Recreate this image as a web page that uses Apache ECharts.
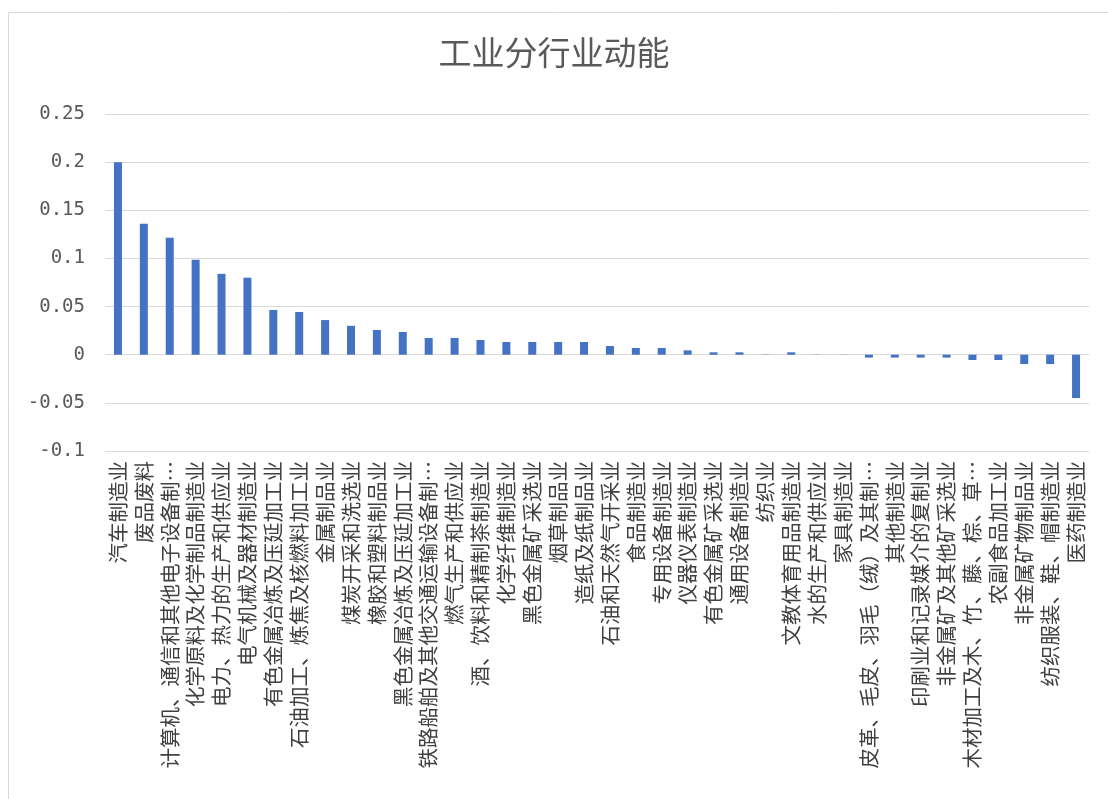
<!DOCTYPE html>
<html>
<head>
<meta charset="utf-8">
<title>工业分行业动能</title>
<script src="https://cdn.jsdelivr.net/npm/echarts@6/dist/echarts.min.js"></script>
<style>
  html, body { margin: 0; padding: 0; background: #fff; }
  #chart { width: 1108px; height: 799px; }
</style>
</head>
<body>
<div id="chart"></div>
<script>
const titleText = '工业分行业动能';

const industries = [
  '汽车制造业',
  '废品废料',
  '计算机、通信和其他电子设备制…',
  '化学原料及化学制品制造业',
  '电力、热力的生产和供应业',
  '电气机械及器材制造业',
  '有色金属冶炼及压延加工业',
  '石油加工、炼焦及核燃料加工业',
  '金属制品业',
  '煤炭开采和洗选业',
  '橡胶和塑料制品业',
  '黑色金属冶炼及压延加工业',
  '铁路船舶及其他交通运输设备制…',
  '燃气生产和供应业',
  '酒、饮料和精制茶制造业',
  '化学纤维制造业',
  '黑色金属矿采选业',
  '烟草制品业',
  '造纸及纸制品业',
  '石油和天然气开采业',
  '食品制造业',
  '专用设备制造业',
  '仪器仪表制造业',
  '有色金属矿采选业',
  '通用设备制造业',
  '纺织业',
  '文教体育用品制造业',
  '水的生产和供应业',
  '家具制造业',
  '皮革、毛皮、羽毛（绒）及其制…',
  '其他制造业',
  '印刷业和记录媒介的复制业',
  '非金属矿及其他矿采选业',
  '木材加工及木、竹、藤、棕、草…',
  '农副食品加工业',
  '非金属矿物制品业',
  '纺织服装、鞋、帽制造业',
  '医药制造业'
];

const momentum = [
  0.2, 0.136, 0.1215, 0.0986, 0.084, 0.080, 0.0465, 0.0444, 0.036, 0.030,
  0.0257, 0.0236, 0.0174, 0.0174, 0.0153, 0.0132, 0.0132, 0.0132, 0.0132, 0.009,
  0.007, 0.007, 0.0045, 0.0025, 0.0025, 0.0003, 0.0025, 0.0002, 0.0002, -0.003,
  -0.003, -0.003, -0.003, -0.0055, -0.0055, -0.0097, -0.0097, -0.045
];

const yMin = -0.1;
const yMax = 0.25;
const yStep = 0.05;

let myChart = echarts.init(document.getElementById('chart'));

let option = {
  backgroundColor: '#fff',
  animation: false,
  title: {
    text: titleText,
    left: 'center',
    top: 31,
    textStyle: {
      fontFamily: 'Noto Sans CJK SC',
      fontSize: 33,
      fontWeight: 'normal',
      color: '#595959'
    }
  },
  graphic: [
    {
      type: 'rect',
      shape: { x: 8.5, y: 12.5, width: 1200, height: 900 },
      style: { fill: 'none', stroke: '#d9d9d9', lineWidth: 1 },
      silent: true
    }
  ],
  grid: {
    left: 105,
    right: 19,
    top: 114,
    bottom: 348
  },
  xAxis: {
    type: 'category',
    data: industries,
    axisLine: { show: false, onZero: false },
    axisTick: { show: false },
    axisLabel: {
      interval: 0,
      rotate: 90,
      margin: 10,
      fontFamily: 'Noto Sans CJK SC',
      fontSize: 20.5,
      color: '#404040'
    }
  },
  yAxis: {
    type: 'value',
    min: yMin,
    max: yMax,
    interval: yStep,
    axisLine: { show: false },
    axisTick: { show: false },
    axisLabel: {
      margin: 20,
      fontFamily: 'DejaVu Sans Mono',
      fontSize: 19,
      color: '#595959'
    },
    splitLine: {
      lineStyle: { color: '#d9d9d9', width: 1 }
    }
  },
  series: [
    {
      name: titleText,
      type: 'bar',
      barWidth: 8,
      itemStyle: { color: '#4472C4' },
      data: momentum
    }
  ]
};

option && myChart.setOption(option);
</script>
</body>
</html>
